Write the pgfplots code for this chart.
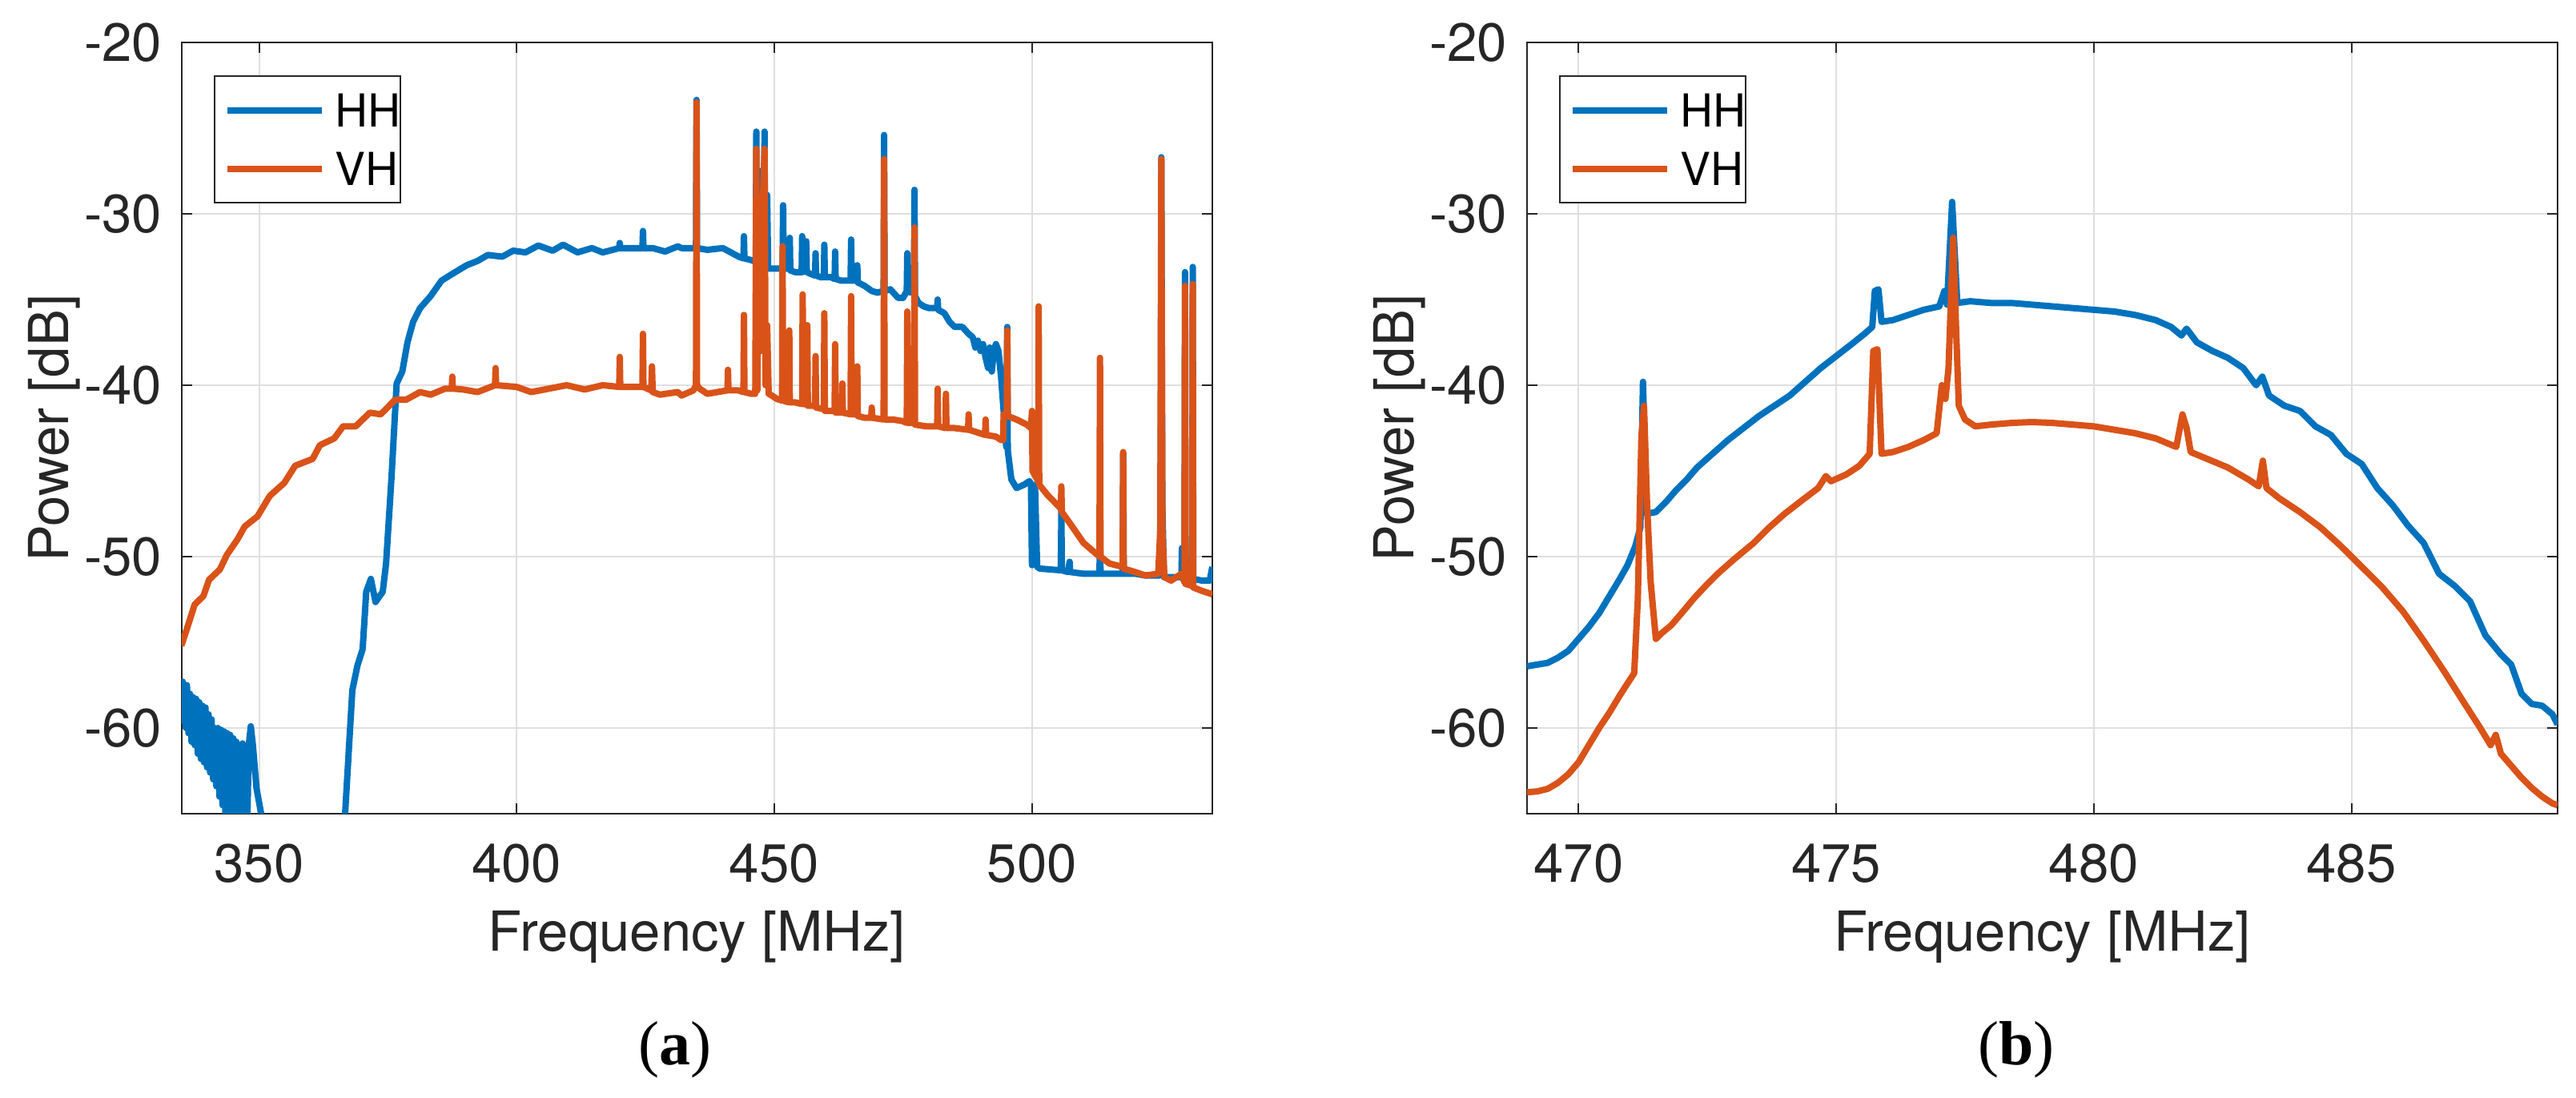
\documentclass[border=0pt]{standalone}
\usepackage{fontspec}
\setmainfont{TeX Gyre Heros}
\newfontfamily\capfont{Liberation Serif}
\usepackage{pgfplots}
\pgfplotsset{compat=1.18}

\definecolor{hh}{RGB}{0,114,189}
\definecolor{vh}{RGB}{217,83,25}
\definecolor{axgray}{RGB}{38,38,38}
\definecolor{gridgray}{RGB}{223,223,223}

\tikzset{legframe/.style={axgray, line width=0.5pt, fill=white}}

\pgfplotsset{
  spec/.style={
    scale only axis, width=321.75pt, height=240.75pt,
    ymin=-65, ymax=-20,
    ytick={-60,-50,-40,-30,-20}, yticklabels={-60,-50,-40,-30,-20},
    grid=major, major grid style={gridgray, line width=0.5pt},
    axis line style={axgray, line width=0.5pt},
    every tick/.style={axgray, line width=0.5pt},
    major tick length=3.25pt, tick align=inside,
    /pgf/number format/assume math mode=true,
    tick label style={font=\fontsize{16.8}{19}\selectfont, text=axgray},
    xticklabel style={anchor=base, inner sep=0pt, yshift=-21.5pt},
    yticklabel style={anchor=east, inner sep=0pt, xshift=-6pt},
    xlabel={Frequency [MHz]}, ylabel={Power [dB]},
    label style={font=\fontsize{17.2}{20}\selectfont, text=axgray},
    xlabel style={at={(axis description cs:0.5,-0.1786)}, anchor=base, inner sep=0pt},
    ylabel style={at={(axis description cs:-0.1103,0.5)}, anchor=base, inner sep=0pt},
    legend style={at={(axis description cs:0,1)}, anchor=north west,
      xshift=10.25pt, yshift=-10.5pt, draw=none, fill=none,
      font=\fontsize{14.2}{17}\selectfont, inner xsep=2.75pt, inner ysep=5.35pt,
      row sep=8.2pt, column sep=3.25pt, cells={anchor=west},
      nodes={inner sep=0pt, text height=10.2pt, text depth=0pt}},
    legend image code/.code={\draw[#1] (0pt,0pt) -- (29.5pt,0pt);},
    every axis plot/.append style={line width=2pt, line join=round},
  },
}

\begin{document}
\begin{tikzpicture}
\path[use as bounding box] (0,0) rectangle (804.25pt,342.75pt);

% (a) wide band
\begin{axis}[spec, at={(56.75pt,88.75pt)}, anchor=south west,
  xmin=335, xmax=535, xtick={350,400,450,500}]
\addplot[hh] coordinates {
(335.0,-59.4)(335.2,-57.3)(335.4,-59.6)(335.6,-57.6)(335.8,-60.0)(336.0,-57.5)
(336.3,-60.3)(336.6,-58.0)(336.9,-60.8)(337.2,-58.2)(337.5,-61.0)(337.8,-58.3)
(338.1,-61.5)(338.4,-58.5)(338.7,-61.8)(339.0,-58.7)(339.3,-62.0)(339.6,-58.8)
(339.9,-62.3)(340.2,-59.2)(340.5,-62.6)(340.8,-59.5)(341.1,-63.0)(341.4,-60.0)
(341.7,-63.4)(342.0,-60.0)(342.3,-64.0)(342.6,-60.1)(342.9,-64.5)(343.2,-60.2)
(343.5,-66)(343.8,-60.3)(344.1,-66)(344.4,-60.4)(344.7,-66)(345.0,-60.6)
(345.3,-66)(345.6,-60.8)(345.9,-66)(346.2,-61.0)(346.5,-66)(346.8,-60.9)
(347.1,-66)(347.4,-61.5)(347.7,-66)(348.0,-61.0)(348.4,-59.9)(348.8,-61.0)
(349.5,-63.5)(350.7,-65.5)(351.5,-75)(358,-90)(366.0,-70)
(366.7,-65)(368.1,-57.8)(369.1,-56.35)(370.1,-55.4)(370.8,-52.05)(371.7,-51.3)
(372.6,-52.65)(374.0,-52.05)(374.65,-50.4)(375.7,-45.4)(376.7,-39.9)(377.8,-39.2)
(378.8,-37.5)(379.9,-36.3)(381.25,-35.5)(383.3,-34.8)(385.4,-33.9)(387.8,-33.45)
(390.3,-33.0)(392.4,-32.75)(394.4,-32.4)(397.2,-32.5)(399.3,-32.15)(401.7,-32.25)
(404.2,-31.85)(407.0,-32.15)(409.0,-31.8)(411.8,-32.25)(414.6,-32.0)(416.7,-32.25)
(419.9,-32.0)(420.0,-31.7)(420.1,-32.0)(422.2,-32.0)(424.4,-32.0)(424.5,-31.0)(424.6,-32.0)
(426.4,-32.0)(428.8,-32.2)(431.25,-31.9)(432.0,-32.0)
(434.8,-32.0)(434.9,-23.35)(435.0,-32.0)(437,-32.1)(440,-32.0)(443.1,-32.5)
(444.0,-32.6)(444.1,-31.3)(444.2,-32.6)(445.5,-32.7)
(446.4,-32.8)(446.5,-25.2)(446.6,-32.8)(447.2,-27.5)(447.5,-33.0)
(448.0,-33.0)(448.1,-25.2)(448.2,-33.0)(448.6,-28.9)(448.8,-33.2)
(449.4,-33.2)(450.5,-33.2)(451.6,-33.2)(451.7,-29.5)(451.8,-33.2)
(452.9,-33.2)(453.0,-31.4)(453.1,-33.3)(454.0,-33.4)(455.3,-33.4)(455.4,-31.3)(455.5,-33.4)
(456.1,-33.3)(456.2,-31.6)(456.3,-33.4)(457.0,-33.5)(457.9,-33.6)(458.0,-32.3)(458.1,-33.6)
(459.0,-33.7)(459.6,-33.7)(459.7,-31.8)(459.8,-33.7)(461.0,-33.7)(461.7,-33.8)(461.8,-32.2)(461.9,-33.8)
(463.0,-33.9)(464.8,-33.9)(464.9,-31.5)(465.0,-33.9)(466.0,-33.9)(466.1,-33.0)(466.2,-34.0)
(467.5,-34.2)(468.9,-34.5)(470.0,-34.6)(471.2,-34.5)(471.3,-25.4)(471.4,-34.5)
(472.5,-34.4)(474.0,-34.9)(475.0,-34.9)(475.7,-34.5)(475.8,-32.3)(475.9,-34.5)
(476.5,-34.6)(477.1,-34.5)(477.2,-28.6)(477.3,-34.8)(478,-35.2)(479.0,-35.4)(480,-35.5)
(481,-35.5)(481.6,-35.5)(481.7,-35.0)(481.8,-35.6)(483,-35.8)(484,-36.3)(485,-36.6)
(486.5,-36.6)(487.7,-37.0)(488.5,-37.2)(489,-37.8)(489.5,-37.4)(490,-38.0)(490.5,-37.6)
(491.0,-38.4)(491.5,-39.0)(491.8,-37.8)(492.2,-39.2)(492.6,-38.0)(493.0,-37.6)(493.5,-38.0)
(494.0,-39.5)(494.5,-41.5)(495.0,-43.6)(495.2,-36.6)(495.3,-43.8)(496,-45.5)(497,-46.0)
(498.5,-45.8)(499.5,-45.6)(499.8,-45.8)(500.0,-50.5)(500.2,-45.8)(500.6,-46.0)
(501.0,-50.6)(501.5,-50.7)(505.6,-50.8)(505.7,-47.3)(505.8,-50.8)(507,-50.9)(507.3,-50.3)(507.4,-50.9)
(510,-51.0)(513.1,-51.0)(513.2,-48.6)(513.3,-51.0)(517.6,-51.0)(517.7,-44.0)(517.8,-51.0)
(520,-51.0)(522,-51.1)(524.8,-51.1)(525.0,-45.0)(525.1,-26.7)(525.3,-47)(525.6,-51.2)
(528,-51.2)(529.0,-51.2)(529.1,-49.5)(529.3,-51.3)(529.6,-51.3)(529.7,-33.4)(529.8,-51.3)
(531.1,-51.3)(531.2,-33.1)(531.3,-51.3)(533,-51.4)(534.5,-51.4)(535,-50.6)
};
\addlegendentry{HH}
\addplot[vh] coordinates {
(334.9,-55.2)(335.8,-54.4)(337.5,-52.8)(339.2,-52.3)(340.3,-51.35)(342.4,-50.75)
(343.75,-49.9)(345.8,-49.0)(347.2,-48.25)(349.7,-47.65)(352.1,-46.45)(354.9,-45.7)
(357.0,-44.7)(360.4,-44.3)(361.8,-43.5)(364.6,-43.1)(366.3,-42.4)(368.75,-42.4)
(371.5,-41.6)(373.6,-41.7)(376.4,-40.85)(378.5,-40.85)(381.25,-40.4)(383.3,-40.55)
(386.1,-40.2)(387.4,-40.2)(387.5,-39.5)(387.6,-40.2)(389.6,-40.25)(392.4,-40.4)
(395.8,-40.0)(395.9,-39.0)(396.0,-40.0)(400,-40.1)(402.8,-40.4)(406.25,-40.2)
(409.7,-40.0)(413.2,-40.25)(416.7,-40.0)(419.9,-40.1)(420.0,-38.35)(420.1,-40.1)
(423.6,-40.1)(424.4,-40.1)(424.5,-37.0)(424.6,-40.1)(426.1,-40.3)(426.25,-38.9)(426.4,-40.4)
(427.8,-40.55)(431.25,-40.4)(432.0,-40.6)(434.3,-40.3)(434.8,-40.0)(434.9,-23.5)(435.0,-40.0)
(435.5,-40.2)(437,-40.5)(440.9,-40.3)(441.0,-39.1)(441.1,-40.3)(443,-40.3)
(444.0,-40.4)(444.1,-35.9)(444.2,-40.4)(445.5,-40.5)(446.3,-40.5)(446.5,-26.2)(446.7,-40.3)
(447.0,-29.0)(447.4,-38.0)(447.7,-30.0)(448.1,-26.2)(448.3,-40.0)(448.6,-36.5)(448.9,-40.5)
(449.5,-40.6)(450.5,-40.8)(451.5,-40.9)(451.6,-31.9)(451.7,-40.9)(452.8,-41.0)(452.9,-36.8)(453.0,-41.0)
(454.0,-41.0)(455.4,-41.1)(455.5,-34.7)(455.6,-41.1)(456.3,-41.1)(456.4,-36.5)(456.5,-41.2)
(457.9,-41.2)(458.0,-38.3)(458.1,-41.3)(459.6,-41.4)(459.7,-35.8)(459.8,-41.5)
(461.7,-41.5)(461.8,-37.6)(461.9,-41.6)(463.1,-41.6)(463.2,-39.9)(463.3,-41.6)
(464.8,-41.7)(464.9,-34.8)(465.0,-41.7)(466.0,-41.7)(466.1,-38.9)(466.2,-41.8)
(467.5,-41.9)(468.8,-41.9)(468.9,-41.3)(469.0,-41.9)(471.2,-42.0)(471.3,-26.8)(471.4,-42.0)
(473,-42.0)(475.0,-42.1)(475.7,-42.2)(475.8,-35.7)(475.9,-42.2)(477.1,-42.2)(477.2,-30.8)(477.3,-42.3)
(479.5,-42.4)(481.6,-42.4)(481.7,-40.2)(481.8,-42.4)(483.2,-42.5)(483.3,-40.5)(483.4,-42.5)
(485,-42.5)(487.6,-42.6)(487.7,-41.7)(487.8,-42.6)(490.9,-42.9)(491.0,-42.0)(491.1,-42.9)
(493,-43.0)(494.0,-43.2)(494.4,-43.2)(494.5,-41.7)(495.1,-41.8)(495.2,-36.8)(495.3,-41.8)
(497,-42.0)(499,-42.3)(499.8,-42.5)(500.0,-41.5)(500.1,-45.0)(501.2,-45.6)(501.3,-35.4)(501.4,-45.8)
(503,-46.4)(505.6,-47.2)(505.7,-45.9)(505.8,-47.4)(507,-47.9)(510,-49.2)
(513.1,-50.0)(513.2,-38.4)(513.3,-50.0)(515,-50.4)(517.6,-50.6)(517.7,-43.9)(517.8,-50.7)
(520,-50.9)(522,-51.1)(524.5,-51.0)(524.9,-48.5)(525.1,-26.8)(525.3,-48.5)(525.7,-51.2)
(527,-51.4)(529,-51.0)(529.6,-51.5)(529.7,-34.2)(529.8,-51.6)(531.1,-51.7)(531.2,-34.1)(531.3,-51.8)
(533,-52.0)(535,-52.2)
};
\addlegendentry{VH}
\draw[legframe] (axis description cs:0.03186,0.95639) rectangle (axis description cs:0.21212,0.79252);
\end{axis}

% (b) zoom on 469-489 MHz
\begin{axis}[spec, at={(476.75pt,88.75pt)}, anchor=south west,
  xmin=469, xmax=489, xtick={470,475,480,485}]
\addplot[hh] coordinates {
(469.0,-56.4)(469.2,-56.3)(469.4,-56.2)(469.6,-55.9)(469.8,-55.5)(470.0,-54.8)
(470.2,-54.1)(470.4,-53.3)(470.6,-52.3)(470.8,-51.3)(470.95,-50.5)(471.1,-49.4)
(471.2,-48.3)(471.25,-39.8)(471.32,-47.5)(471.5,-47.4)(471.7,-46.8)(471.9,-46.1)
(472.1,-45.5)(472.3,-44.8)(472.6,-44.0)(472.9,-43.2)(473.2,-42.5)(473.5,-41.8)
(473.8,-41.2)(474.1,-40.6)(474.4,-39.8)(474.7,-39.0)(475.0,-38.3)(475.3,-37.6)
(475.55,-37.0)(475.7,-36.6)(475.75,-34.5)(475.82,-34.4)(475.88,-36.3)(476.1,-36.2)
(476.4,-35.9)(476.7,-35.6)(477.0,-35.4)(477.1,-34.5)(477.15,-35.3)(477.25,-29.3)
(477.35,-35.2)(477.6,-35.1)(478.0,-35.2)(478.4,-35.2)(478.8,-35.3)(479.2,-35.4)
(479.6,-35.5)(480.0,-35.6)(480.4,-35.7)(480.8,-35.9)(481.2,-36.2)(481.5,-36.6)
(481.7,-37.1)(481.8,-36.7)(482.0,-37.5)(482.3,-38.0)(482.6,-38.4)(482.9,-39.0)
(483.15,-40.0)(483.27,-39.5)(483.4,-40.6)(483.7,-41.2)(484.0,-41.5)(484.3,-42.4)
(484.6,-42.9)(484.9,-44.0)(485.2,-44.6)(485.5,-46.0)(485.8,-47.0)(486.1,-48.2)
(486.4,-49.2)(486.7,-51.0)(487.0,-51.7)(487.3,-52.6)(487.6,-54.6)(487.9,-55.7)
(488.1,-56.3)(488.3,-58.0)(488.5,-58.6)(488.7,-58.7)(488.9,-59.2)(489.0,-59.8)
};
\addlegendentry{HH}
\addplot[vh] coordinates {
(469.0,-63.75)(469.2,-63.7)(469.4,-63.55)(469.6,-63.2)(469.8,-62.7)(470.0,-62.0)
(470.2,-61.0)(470.4,-60.0)(470.6,-59.1)(470.8,-58.1)(470.95,-57.4)(471.08,-56.8)
(471.15,-52.5)(471.22,-43.0)(471.27,-41.2)(471.33,-47.0)(471.4,-51.5)(471.5,-54.8)
(471.6,-54.5)(471.8,-54.0)(472.0,-53.3)(472.25,-52.4)(472.5,-51.6)(472.7,-51.0)
(473.0,-50.2)(473.4,-49.2)(473.7,-48.3)(474.0,-47.5)(474.3,-46.8)(474.65,-46.0)
(474.8,-45.3)(474.9,-45.6)(475.2,-45.2)(475.45,-44.7)(475.65,-44.0)(475.72,-38.0)
(475.8,-37.9)(475.88,-44.0)(476.1,-43.9)(476.4,-43.6)(476.7,-43.2)(476.95,-42.8)
(477.05,-40.0)(477.12,-40.8)(477.18,-39.0)(477.27,-31.4)(477.33,-37.0)(477.38,-41.2)
(477.5,-42.0)(477.7,-42.4)(478.0,-42.3)(478.4,-42.2)(478.8,-42.15)(479.2,-42.2)
(479.6,-42.3)(480.0,-42.4)(480.4,-42.6)(480.8,-42.8)(481.2,-43.1)(481.6,-43.6)
(481.72,-41.7)(481.8,-42.5)(481.88,-43.9)(482.2,-44.3)(482.6,-44.8)(483.0,-45.5)
(483.2,-45.9)(483.28,-44.4)(483.35,-46.0)(483.6,-46.6)(484.0,-47.4)(484.4,-48.3)
(484.8,-49.4)(485.2,-50.6)(485.6,-51.8)(486.0,-53.2)(486.4,-54.9)(486.8,-56.7)
(487.2,-58.6)(487.5,-60.0)(487.7,-61.0)(487.8,-60.4)(487.9,-61.5)(488.1,-62.2)
(488.3,-62.9)(488.5,-63.5)(488.7,-64.0)(488.9,-64.4)(489.0,-64.5)
};
\addlegendentry{VH}
\draw[legframe] (axis description cs:0.03186,0.95639) rectangle (axis description cs:0.21212,0.79252);
\end{axis}

\node[font=\capfont\fontsize{19.5}{22}\selectfont, anchor=base] at (210.75pt,10.25pt) {(\textbf{a})};
\node[font=\capfont\fontsize{19.5}{22}\selectfont, anchor=base] at (629.5pt,10.25pt) {(\textbf{b})};
\end{tikzpicture}
\end{document}
